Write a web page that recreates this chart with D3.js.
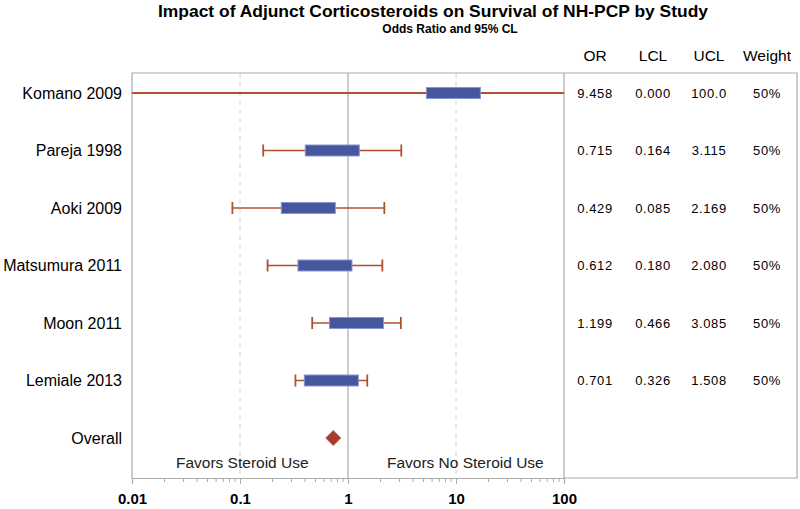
<!DOCTYPE html>
<html>
<head>
<meta charset="utf-8">
<script src="https://cdn.jsdelivr.net/npm/d3@7"></script>
<style>
  body { margin: 0; background: #fff; }
  svg { display: block; font-family: Arial, "Liberation Sans", sans-serif; }
</style>
</head>
<body>
<div id="container"></div>
<script>
/* DATA */
const studies = ["Komano 2009", "Pareja 1998", "Aoki 2009", "Matsumura 2011", "Moon 2011", "Lemiale 2013"]
const orValues = [9.458, 0.715, 0.429, 0.612, 1.199, 0.701]
const lclValues = [0.000, 0.164, 0.085, 0.180, 0.466, 0.326]
const uclValues = [100.0, 3.115, 2.169, 2.080, 3.085, 1.508]
const weights = [50, 50, 50, 50, 50, 50]
const overallLabel = "Overall"
const overallOR = 0.73
const tableHeaders = ["OR", "LCL", "UCL", "Weight"]
const xTicks = [0.01, 0.1, 1, 10, 100]
const favorLabels = ["Favors Steroid Use", "Favors No Steroid Use"]
const favorAt = [0.105, 12.2]

/* CONSTANTS */
const width = 800,
  height = 509,
  plot = { left: 132, right: 564, top: 73, bottom: 478 },
  tableRight = 797

const frame = "#ababab"
const whiskerColor = "#b0502f"
const boxColor = "#4657a0"

let xScale, yScale

const svg = d3.select('#container')
  .append('svg')
  .attr('width', width)
  .attr('height', height)

/* SCALES */
xScale = d3.scaleLog()
  .domain([0.01, 100])
  .range([plot.left, plot.right])

const rows = studies.concat([overallLabel])
yScale = d3.scalePoint()
  .domain(rows)
  .range([93, 438])

const clampX = v => xScale(Math.min(100, Math.max(0.01, v)))

// title
svg.append('text')
  .attr('x', 433).attr('y', 17)
  .attr('text-anchor', 'middle')
  .attr('font-size', 17).attr('font-weight', 'bold')
  .attr('textLength', 550).attr('lengthAdjust', 'spacingAndGlyphs')
  .text('Impact of Adjunct Corticosteroids on Survival of NH-PCP by Study')

svg.append('text')
  .attr('x', 450).attr('y', 33)
  .attr('text-anchor', 'middle')
  .attr('font-size', 12).attr('font-weight', 'bold')
  .text('Odds Ratio and 95% CL')

// reference lines
svg.append('g')
  .selectAll('line')
  .data([0.1, 10])
  .join('line')
  .attr('x1', d => xScale(d)).attr('x2', d => xScale(d))
  .attr('y1', plot.top).attr('y2', plot.bottom)
  .attr('stroke', '#d4d4d4')
  .attr('stroke-dasharray', '5,4')

svg.append('line')
  .attr('x1', xScale(1)).attr('x2', xScale(1))
  .attr('y1', plot.top).attr('y2', plot.bottom)
  .attr('stroke', frame).attr('stroke-width', 1.2)

// frame: plot and table
svg.append('path')
  .attr('d', `M${plot.left},${plot.bottom}V${plot.top}H${tableRight}V${plot.bottom}H${plot.right}V${plot.top}`)
  .attr('fill', 'none')
  .attr('stroke', frame).attr('stroke-width', 1.2)

// x axis
const xAxis = d3.axisBottom(xScale)
  .tickValues(xTicks)
  .tickFormat(d => String(d))
  .tickSize(6)

const axisG = svg.append('g')
  .attr('transform', `translate(0, ${plot.bottom})`)
  .call(xAxis)

axisG.select('.domain').attr('stroke', frame).attr('stroke-width', 1.2)
axisG.selectAll('.tick line').attr('stroke', frame)
axisG.selectAll('.tick text')
  .attr('y', 26)
  .attr('dy', 0)
  .attr('fill', '#000')
  .attr('font-size', 15).attr('font-weight', 'bold')
  .attr('font-family', 'Arial, "Liberation Sans", sans-serif')

// minor ticks
const minor = []
for (let p = -2; p < 2; p++) for (let m = 2; m < 10; m++) minor.push(m * Math.pow(10, p))
axisG.append('g')
  .selectAll('line')
  .data(minor)
  .join('line')
  .attr('x1', d => xScale(d)).attr('x2', d => xScale(d))
  .attr('y1', 0).attr('y2', 4)
  .attr('stroke', frame)

// row labels
svg.append('g')
  .selectAll('text')
  .data(rows)
  .join('text')
  .attr('x', 122)
  .attr('y', d => yScale(d))
  .attr('dy', '0.36em')
  .attr('text-anchor', 'end')
  .attr('font-size', 16)
  .text(d => d)

// whiskers
const study = studies.map((s, i) => ({
  name: s, or: orValues[i], lcl: lclValues[i], ucl: uclValues[i], weight: weights[i]
}))

const wg = svg.append('g')
wg.selectAll('line.whisker')
  .data(study)
  .join('line')
  .attr('class', 'whisker')
  .attr('x1', d => clampX(d.lcl)).attr('x2', d => clampX(d.ucl))
  .attr('y1', d => yScale(d.name)).attr('y2', d => yScale(d.name))
  .attr('stroke', whiskerColor).attr('stroke-width', d => d.lcl < 0.01 ? 2.2 : 1.6)

// caps only where the interval is inside the axis range
const caps = []
study.forEach(d => {
  if (d.lcl >= 0.01) caps.push({ v: d.lcl, name: d.name })
  if (d.ucl < 100) caps.push({ v: d.ucl, name: d.name })
})
wg.selectAll('line.cap')
  .data(caps)
  .join('line')
  .attr('class', 'cap')
  .attr('x1', d => xScale(d.v)).attr('x2', d => xScale(d.v))
  .attr('y1', d => yScale(d.name) - 6).attr('y2', d => yScale(d.name) + 6)
  .attr('stroke', whiskerColor).attr('stroke-width', 1.8)

// boxes: width from weight (log decades)
svg.append('g')
  .selectAll('rect.bar')
  .data(study)
  .join('rect')
  .attr('class', 'bar')
  .attr('x', d => xScale(d.or / Math.pow(10, d.weight / 200)))
  .attr('width', d => xScale(d.or * Math.pow(10, d.weight / 200)) - xScale(d.or / Math.pow(10, d.weight / 200)))
  .attr('y', d => yScale(d.name) - 5.5)
  .attr('height', 11)
  .attr('fill', boxColor)
  .attr('stroke', '#8796cf').attr('stroke-width', 1)

// overall diamond
const ox = xScale(overallOR), oy = yScale(overallLabel)
svg.append('path')
  .attr('d', `M${ox},${oy - 7.5}L${ox + 7.5},${oy}L${ox},${oy + 7.5}L${ox - 7.5},${oy}Z`)
  .attr('fill', '#a83c2c')
  .attr('stroke', '#c0604c').attr('stroke-width', 1)

// favors labels
svg.append('g')
  .selectAll('text')
  .data(favorLabels)
  .join('text')
  .attr('x', (d, i) => xScale(favorAt[i]))
  .attr('y', 462)
  .attr('dy', '0.36em')
  .attr('text-anchor', 'middle')
  .attr('font-size', 15.5)
  .attr('fill', '#222')
  .text(d => d)

// table
const colX = [595, 653, 709, 767]
svg.append('g')
  .selectAll('text')
  .data(tableHeaders)
  .join('text')
  .attr('x', (d, i) => colX[i])
  .attr('y', 61)
  .attr('text-anchor', 'middle')
  .attr('font-size', 15.5)
  .text(d => d)

const cells = []
study.forEach(d => {
  const vals = [d.or.toFixed(3), d.lcl.toFixed(3), d.ucl >= 100 ? d.ucl.toFixed(1) : d.ucl.toFixed(3), d.weight + '%']
  vals.forEach((v, i) => cells.push({ name: d.name, col: i, text: v }))
})
svg.append('g')
  .selectAll('text')
  .data(cells)
  .join('text')
  .attr('x', d => colX[d.col])
  .attr('y', d => yScale(d.name))
  .attr('dy', '0.36em')
  .attr('text-anchor', 'middle')
  .attr('font-size', 13)
  .attr('letter-spacing', 0.6)
  .text(d => d.text)
</script>
</body>
</html>
